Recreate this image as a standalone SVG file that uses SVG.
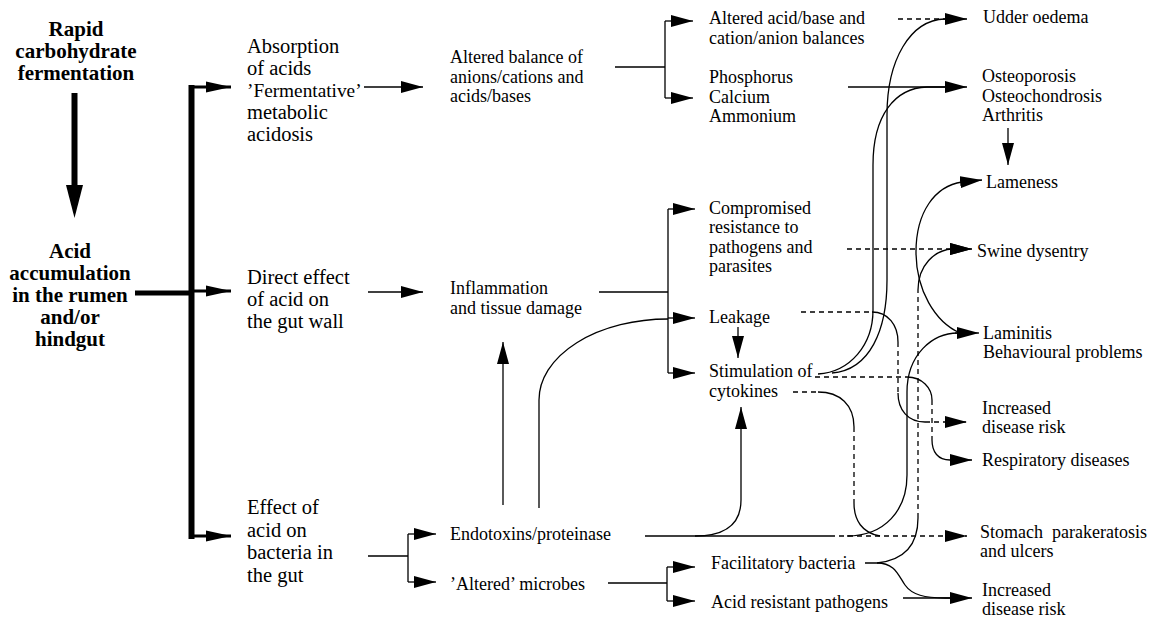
<svg xmlns="http://www.w3.org/2000/svg" width="1155" height="619" viewBox="0 0 1155 619">
<defs>
<marker id="ah" markerWidth="22" markerHeight="12" refX="22" refY="6" orient="auto" markerUnits="userSpaceOnUse"><path d="M0,0 L22,6 L0,12 z" fill="#000"/></marker>
<marker id="ahb" markerWidth="25" markerHeight="12" refX="25" refY="6" orient="auto" markerUnits="userSpaceOnUse"><path d="M0,0.5 L25,6 L0,11.5 z" fill="#000"/></marker>
<style>
text{font-family:"Liberation Serif","Times New Roman",serif;font-size:18px;fill:#000}
.b{font-weight:bold;font-size:21px;text-anchor:middle}
.c2{font-size:20.5px}
.ln{fill:none;stroke:#000;stroke-width:1.3}
.d{stroke-dasharray:5,4}
.a{marker-end:url(#ah)}
.th{fill:none;stroke:#000;stroke-width:3;marker-end:url(#ahb)}
</style>
</defs>
<rect width="1155" height="619" fill="#fff"/>

<g id="n-rapid"><text class="b" x="76" y="36">Rapid</text><text class="b" x="76" y="58">carbohydrate</text><text class="b" x="76" y="80">fermentation</text></g>
<g id="n-acid"><text class="b" x="70" y="258">Acid</text><text class="b" x="70" y="280">accumulation</text><text class="b" x="70" y="302">in the rumen</text><text class="b" x="70" y="324">and/or</text><text class="b" x="70" y="346">hindgut</text></g>

<g id="n-absorption"><text class="c2" x="247" y="53">Absorption</text><text class="c2" x="247" y="75">of acids</text><text x="247" y="97" style="font-size:19.3px">’Fermentative’</text><text class="c2" x="247" y="119">metabolic</text><text class="c2" x="247" y="141">acidosis</text></g>
<g id="n-direct"><text class="c2" x="247" y="284">Direct effect</text><text class="c2" x="247" y="306">of acid on</text><text class="c2" x="247" y="328">the gut wall</text></g>
<g id="n-effect"><text class="c2" x="247" y="514">Effect of</text><text class="c2" x="247" y="537">acid on</text><text class="c2" x="247" y="559">bacteria in</text><text class="c2" x="247" y="582">the gut</text></g>

<g id="n-altbal"><text x="450" y="63">Altered balance of</text><text x="450" y="82.5">anions/cations and</text><text x="450" y="102">acids/bases</text></g>
<g id="n-inflam"><text x="450" y="294">Inflammation</text><text x="450" y="313.5">and tissue damage</text></g>
<g id="n-endo"><text x="450" y="540">Endotoxins/proteinase</text></g>
<g id="n-microbes"><text x="450" y="590">’Altered’ microbes</text></g>

<g id="n-altacid"><text x="709" y="24">Altered acid/base and</text><text x="709" y="43.5">cation/anion balances</text></g>
<g id="n-phos"><text x="709" y="83">Phosphorus</text><text x="709" y="102.5">Calcium</text><text x="709" y="122">Ammonium</text></g>
<g id="n-comp"><text x="709" y="213.5">Compromised</text><text x="709" y="233">resistance to</text><text x="709" y="252.5">pathogens and</text><text x="709" y="272">parasites</text></g>
<g id="n-leak"><text x="709" y="323">Leakage</text></g>
<g id="n-stim"><text x="709" y="377">Stimulation of</text><text x="709" y="396.5">cytokines</text></g>
<g id="n-facil"><text x="711" y="569">Facilitatory bacteria</text></g>
<g id="n-acidres"><text x="711" y="608">Acid resistant pathogens</text></g>

<g id="n-udder"><text x="983" y="22.5">Udder oedema</text></g>
<g id="n-osteo"><text x="982" y="82">Osteoporosis</text><text x="982" y="102">Osteochondrosis</text><text x="982" y="121">Arthritis</text></g>
<g id="n-lame"><text x="986" y="187.5">Lameness</text></g>
<g id="n-swine"><text x="977" y="256.5">Swine dysentry</text></g>
<g id="n-lamin"><text x="983" y="339">Laminitis</text><text x="983" y="358">Behavioural problems</text></g>
<g id="n-risk1"><text x="982" y="414">Increased</text><text x="982" y="433">disease risk</text></g>
<g id="n-resp"><text x="982" y="466">Respiratory diseases</text></g>
<g id="n-stomach"><text x="980" y="538">Stomach&#160; parakeratosis</text><text x="980" y="557">and ulcers</text></g>
<g id="n-risk2"><text x="982" y="596">Increased</text><text x="982" y="615">disease risk</text></g>

<g id="connectors">
<line x1="74.5" y1="93" x2="74.5" y2="190" stroke="#000" stroke-width="6"/>
<polygon points="66,185 83,185 74.5,218" fill="#000"/>
<path d="M135,293 L192,293" stroke="#000" stroke-width="5" fill="none"/>
<path d="M191.5,85 L191.5,539" stroke="#000" stroke-width="6" fill="none"/>
<path class="th" d="M191,87 L231,87"/>
<path class="th" d="M191,291 L231,291"/>
<path class="th" d="M191,536 L231,536"/>

<path class="ln a" d="M364,87 L423,87"/>
<path class="ln a" d="M368,292 L423,292"/>
<path class="ln" d="M368,556 L408,556 M408,534 L408,582"/>
<path class="ln a" d="M408,534 L436,534"/>
<path class="ln a" d="M408,582 L436,582"/>

<path class="ln" d="M615,67 L665,67 M665,21 L665,98"/>
<path class="ln a" d="M665,21 L693,21"/>
<path class="ln a" d="M665,98 L693,98"/>

<path class="ln" d="M599,292 L668,292 M668,209 L668,373"/>
<path class="ln a" d="M668,209 L695,209"/>
<path class="ln a" d="M668,318 L695,318"/>
<path class="ln a" d="M668,373 L695,373"/>

<path class="ln" d="M608,583 L667,583 M667,567 L667,601"/>
<path class="ln a" d="M667,567 L695,567"/>
<path class="ln a" d="M667,601 L695,601"/>

<path class="ln a" d="M738,327 L738,358"/>
<path class="ln a" d="M503,505 L503,342"/>
<path class="ln" d="M539,508 L539,400 A129,81 0 0 1 668,319"/>

<path class="ln" d="M645,536 L830,536"/>
<path class="ln d a" d="M830,536 L967,536"/>
<path class="ln a" d="M695,536 C725,536 741,525 741,500 L741,407"/>
<path class="ln" d="M847,536 C885,536 907,510 907,475 L907,392 C907,355 932,333 958,333"/>
<path class="ln a" d="M955,333 L979,333"/>
<path class="ln" d="M916,252 C916,290 935,322 960,333"/>
<path class="ln a" d="M916,252 C916,212 935,186 962,182 L982,180"/>

<path class="ln" d="M865,563 L877,563 C905,560 918,545 918,518"/>
<path class="ln d" d="M918,518 L918,290"/>
<path class="ln a" d="M918,290 C918,265 935,250 952,249 L972,249"/>
<path class="ln a" d="M877,563 C895,563 898,575 905,585 C912,595 925,598 945,598 L972,598"/>
<path class="ln" d="M903,598 L950,598"/>

<path class="ln d a" d="M847,249 L972,249"/>

<path class="ln d" d="M898,19 L947,19"/>
<path class="ln a" d="M832,373 C870,370 887,330 887,280 L887,115 C887,60 910,20 945,19 L967,19"/>
<path class="ln a" d="M848,87 L967,87"/>
<path class="ln" d="M818,374 C850,372 873,345 873,310 L873,165 C873,115 895,88 927,87 L945,87"/>

<path class="ln d" d="M801,312 L872,312"/>
<path class="ln" d="M872,312 C888,312 898,325 898,342"/>
<path class="ln d" d="M898,342 L898,393"/>
<path class="ln" d="M898,393 C898,410 908,422 925,422"/>
<path class="ln d a" d="M925,422 L967,422"/>

<path class="ln d" d="M815,377 L907,377"/>
<path class="ln" d="M907,377 C922,377 932,388 932,400"/>
<path class="ln d" d="M932,400 L932,440"/>
<path class="ln a" d="M932,440 C932,452 938,460 950,460 L972,460"/>

<path class="ln d" d="M793,392 L818,392"/>
<path class="ln" d="M818,392 C840,392 854,405 854,427"/>
<path class="ln d" d="M854,427 L854,503"/>
<path class="ln" d="M854,503 C854,520 862,533 880,536"/>

<path class="ln a" d="M1008,128 L1008,165"/>
</g>
</svg>
